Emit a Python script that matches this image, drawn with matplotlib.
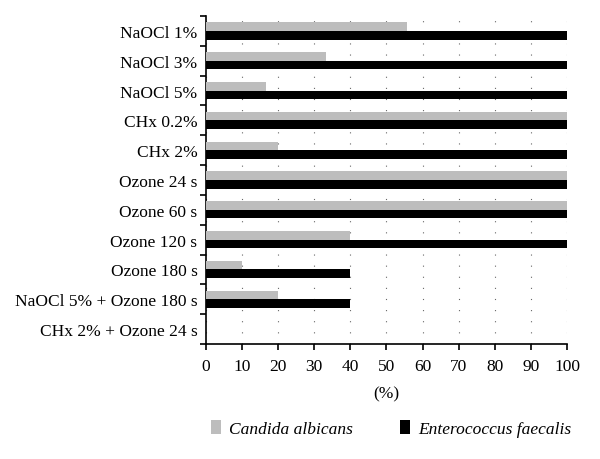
import matplotlib
matplotlib.use('Agg')
import matplotlib.pyplot as plt
import numpy as np

categories = ['NaOCl 1%', 'NaOCl 3%', 'NaOCl 5%', 'CHx 0.2%', 'CHx 2%',
              'Ozone 24 s', 'Ozone 60 s', 'Ozone 120 s', 'Ozone 180 s',
              'NaOCl 5% + Ozone 180 s', 'CHx 2% + Ozone 24 s']
candida = [55.6, 33.3, 16.7, 100, 20, 100, 100, 40, 10, 20, 0]
enterococcus = [100, 100, 100, 100, 100, 100, 100, 100, 40, 40, 0]
series_names = ['Candida albicans', 'Enterococcus faecalis']

plt.rcParams['font.family'] = ['Liberation Serif', 'DejaVu Serif']
fs = 12.5

fig = plt.figure(figsize=(6, 4.6), dpi=100)
ax = fig.add_axes([0.343, 0.25, 0.602, 0.713])

y = np.arange(len(categories))
h = 0.29
ax.barh(y - h / 2, candida, height=h, color='#bdbdbd', label=series_names[0], zorder=3)
ax.barh(y + h / 2, enterococcus, height=h, color='black', label=series_names[1], zorder=3)

ax.set_ylim(len(categories) - 0.5, -0.5)
ax.set_xlim(0, 100)
ax.set_xticks(np.arange(0, 101, 10))
ax.set_yticks(y)
ax.set_yticklabels(categories, fontsize=fs)
ax.set_yticks(np.arange(-0.5, len(categories), 1), minor=True)
ax.tick_params(axis='y', which='major', length=0, pad=6)
ax.tick_params(axis='y', which='minor', length=4, width=1.2, direction='out')
ax.tick_params(axis='x', length=4, width=1.2, direction='out', labelsize=fs, pad=6)

ax.grid(axis='x', color='#666666', linestyle=(0, (1, 9)), linewidth=0.8, zorder=0)
for s in ['top', 'right']:
    ax.spines[s].set_visible(False)
ax.spines['left'].set_linewidth(1.2)
ax.spines['bottom'].set_linewidth(1.2)

ax.set_xlabel('(%)', fontsize=fs, labelpad=8)

leg = fig.legend(loc='lower left', bbox_to_anchor=(0.325, 0.013), ncol=2, frameon=False,
                 prop={'style': 'italic', 'size': fs}, handlelength=0.6, handleheight=0.85,
                 handletextpad=0.45, columnspacing=2.7)

fig.savefig('out.png', dpi=100)
